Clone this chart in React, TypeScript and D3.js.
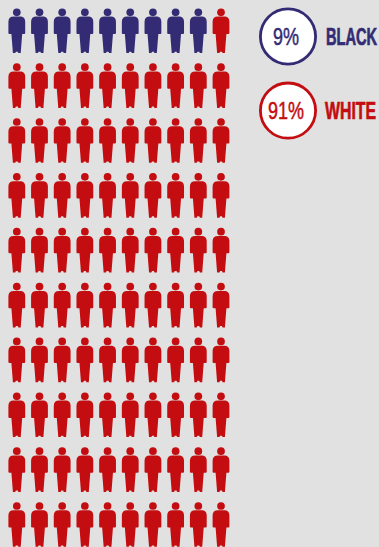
import React from "react";
import * as d3 from "d3";

const groups = ["BLACK", "WHITE"];
const percents = [9, 91];
const groupColors = ["#332c74", "#c40d10"];
const columns = d3.range(10);
const rows = d3.range(10);

const WIDTH = 379;
const HEIGHT = 547;

const xScale = d3.scalePoint<number>().domain(columns).range([16.8, 221]);
const yScale = d3.scalePoint<number>().domain(rows).range([12.3, 506]);
const legendY = d3.scalePoint<string>().domain(groups).range([36.5, 110.6]);

// Person silhouette, origin at the centre of the head.
const bodyPath = d3.path();
bodyPath.moveTo(-3, 4.3);
bodyPath.lineTo(3, 4.3);
bodyPath.bezierCurveTo(6.5, 4.3, 8.4, 6, 8.4, 9.6);
bodyPath.lineTo(8.4, 20.6);
bodyPath.quadraticCurveTo(8.4, 21.6, 7.4, 21.6);
bodyPath.lineTo(5.4, 21.6);
bodyPath.lineTo(3.9, 40.8);
bodyPath.lineTo(1.6, 40.8);
bodyPath.lineTo(0.9, 39.4);
bodyPath.lineTo(-0.9, 39.4);
bodyPath.lineTo(-1.6, 40.8);
bodyPath.lineTo(-3.9, 40.8);
bodyPath.lineTo(-5.4, 21.6);
bodyPath.lineTo(-7.4, 21.6);
bodyPath.quadraticCurveTo(-8.4, 21.6, -8.4, 20.6);
bodyPath.lineTo(-8.4, 9.6);
bodyPath.bezierCurveTo(-8.4, 6, -6.5, 4.3, -3, 4.3);
bodyPath.closePath();
const body = bodyPath.toString();

// One figure per percentage point, filled group by group.
const figureColors = percents.flatMap((count, g) => d3.range(count).map(() => groupColors[g]));

// The labels are set in a condensed face, so the regular one is squeezed horizontally.
const labelFont = "'Liberation Sans', sans-serif";
const percentSqueeze = 0.75;
const nameSqueeze = [0.61, 0.66];

export default function App() {
  return (
    <svg
      width={WIDTH}
      height={HEIGHT}
      viewBox={`0 0 ${WIDTH} ${HEIGHT}`}
      style={{ position: "absolute", left: 0, top: 0, display: "block" }}
    >
      <rect width={WIDTH} height={HEIGHT} fill="#e1e1e1" />
      {figureColors.map((color, i) => (
        <g
          key={i}
          fill={color}
          transform={`translate(${xScale(i % 10)},${yScale(Math.floor(i / 10))})`}
        >
          <circle r={3.85} />
          <path d={body} />
        </g>
      ))}
      {groups.map((name, i) => {
        const y = legendY(name)!;
        return (
          <g key={name} fill={groupColors[i]} fontFamily={labelFont}>
            <circle
              cx={288}
              cy={y}
              r={27.6}
              fill="#ffffff"
              stroke={groupColors[i]}
              strokeWidth={2.8}
            />
            <text
              transform={`translate(286,${y + 8.6}) scale(${percentSqueeze},1)`}
              textAnchor="middle"
              fontSize={24}
              stroke={groupColors[i]}
              strokeWidth={0.5}
            >
              {percents[i]}%
            </text>
            <text
              transform={`translate(${i === 0 ? 326 : 325},${y + 8.3}) scale(${nameSqueeze[i]},1)`}
              fontSize={24}
              fontWeight={700}
              stroke={groupColors[i]}
              strokeWidth={0.7}
            >
              {name}
            </text>
          </g>
        );
      })}
    </svg>
  );
}
